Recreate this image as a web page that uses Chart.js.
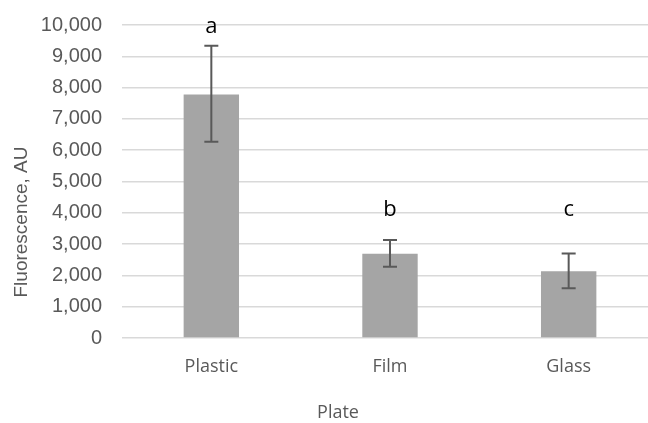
<!DOCTYPE html>
<html>
  <head>
    <meta charset='utf-8'>
    <title>Fluorescence by plate</title>
    <style>
      html, body { margin: 0; padding: 0; background: #fff; overflow: hidden; width: 648px; height: 423px; }
      #wrap { width: 648px; height: 423px; overflow: hidden; position: relative; }
      canvas { display: block; position: absolute; left: 0; top: 0; }
    </style>
    <script src='https://cdn.jsdelivr.net/npm/chart.js@4/dist/chart.umd.min.js'></script>
  </head>
  <body>
    <div id='wrap'>
      <canvas id='chart' width='660' height='423'></canvas>
    </div>

    <script>
    var plates = ['Plastic', 'Film', 'Glass'];
    var means = [7780, 2690, 2130];
    var errHigh = [9340, 3130, 2700];
    var errLow = [6270, 2280, 1590];
    var letters = ['a', 'b', 'c'];
    var letterBase = [9750, 3900, 3900];

    var grey = '#595959';

    // error bars and significance letters
    var extras = {
      id: 'extras',
      afterDatasetsDraw: function (chart) {
        var ctx = chart.ctx;
        var y = chart.scales.y;
        var meta = chart.getDatasetMeta(0);
        ctx.save();
        ctx.strokeStyle = grey;
        ctx.lineWidth = 2;
        meta.data.forEach(function (bar, i) {
          var top = y.getPixelForValue(errHigh[i]);
          var bot = y.getPixelForValue(errLow[i]);
          ctx.beginPath();
          ctx.moveTo(bar.x, top);
          ctx.lineTo(bar.x, bot);
          ctx.moveTo(bar.x - 7, top);
          ctx.lineTo(bar.x + 7, top);
          ctx.moveTo(bar.x - 7, bot);
          ctx.lineTo(bar.x + 7, bot);
          ctx.stroke();
        });
        ctx.fillStyle = '#000';
        ctx.font = '22px "Open Sans"';
        ctx.textAlign = 'center';
        ctx.textBaseline = 'alphabetic';
        meta.data.forEach(function (bar, i) {
          ctx.fillText(letters[i], bar.x, y.getPixelForValue(letterBase[i]));
        });
        ctx.restore();
      },
      afterDraw: function (chart) {
        var ctx = chart.ctx;
        ctx.save();
        ctx.fillStyle = grey;
        ctx.textAlign = 'center';
        ctx.textBaseline = 'middle';
        ctx.font = '19px "Liberation Sans"';
        ctx.translate(22, 222);
        ctx.rotate(-Math.PI / 2);
        ctx.fillText('Fluorescence, AU', 0, 0);
        ctx.restore();
        ctx.save();
        ctx.fillStyle = grey;
        ctx.textAlign = 'center';
        ctx.textBaseline = 'middle';
        ctx.font = '18px "Open Sans"';
        ctx.fillText('Plate', 338, 413);
        ctx.restore();
      }
    };

    var chart = new Chart(document.getElementById('chart').getContext('2d'), {
      type: 'bar',
      data: {
        labels: plates,
        datasets: [{
          data: means,
          backgroundColor: '#a5a5a5',
          borderWidth: 0,
          barPercentage: 1,
          categoryPercentage: 0.31
        }]
      },
      options: {
        responsive: false,
        animation: false,
        layout: { padding: { top: 25, right: 2, bottom: 0, left: 0 } },
        plugins: {
          legend: { display: false },
          tooltip: { enabled: false }
        },
        scales: {
          x: {
            grid: { display: false, drawTicks: false },
            border: { display: false },
            ticks: {
              color: grey,
              padding: 18,
              font: { family: 'Open Sans', size: 18 }
            },
            afterFit: function (s) { s.height = 85; }
          },
          y: {
            min: 0,
            max: 10000,
            grid: { color: '#d9d9d9', lineWidth: 1.5, drawTicks: false },
            border: { display: false },
            ticks: {
              stepSize: 1000,
              color: grey,
              padding: 20,
              font: { family: 'Liberation Sans', size: 20 },
              callback: function (v) { return v.toLocaleString('en-US'); }
            },
            afterFit: function (s) {
              s.width = 122;
              s.paddingTop = 10;
              s.paddingBottom = 10;
            }
          }
        }
      },
      plugins: [extras]
    });
    </script>
  </body>
</html>
